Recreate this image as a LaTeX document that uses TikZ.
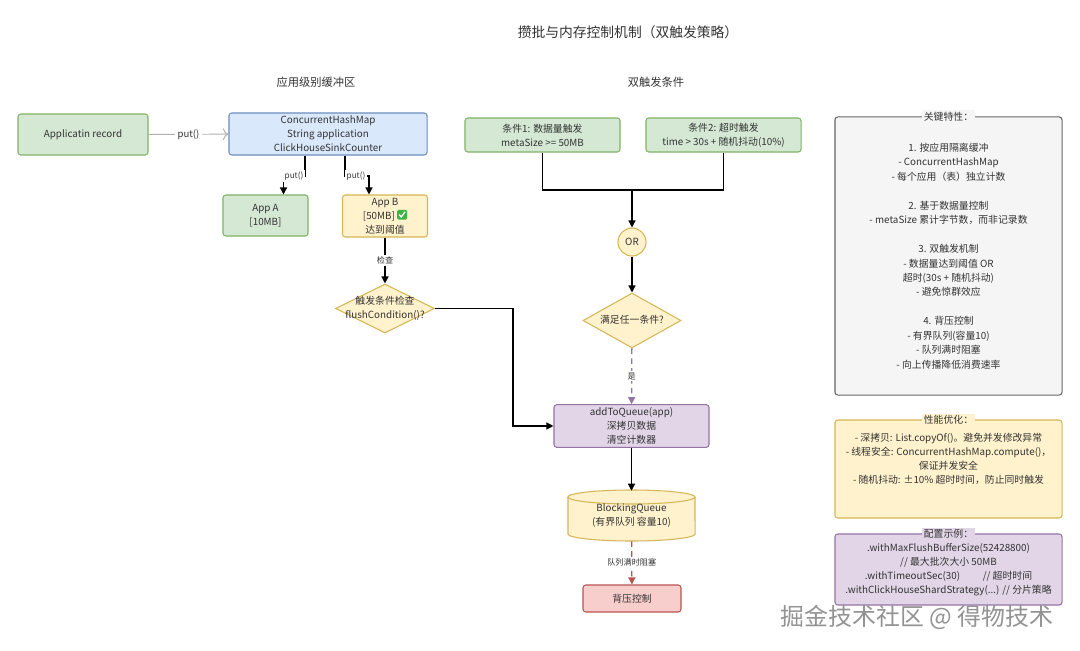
\documentclass[tikz,border=0pt]{standalone}
\usepackage{fontspec}
\setmainfont{Noto Sans CJK SC}
\usepackage{tikz}
\usetikzlibrary{arrows.meta, shapes.geometric, positioning, calc}

\definecolor{txt}{HTML}{333333}
\definecolor{grnfill}{HTML}{D5E8D4}
\definecolor{grnline}{HTML}{82B366}
\definecolor{blufill}{HTML}{DAE8FC}
\definecolor{bluline}{HTML}{6C8EBF}
\definecolor{ylwfill}{HTML}{FFF2CC}
\definecolor{ylwline}{HTML}{D6B656}
\definecolor{prpfill}{HTML}{E1D5E7}
\definecolor{prpline}{HTML}{9673A6}
\definecolor{redfill}{HTML}{F8CECC}
\definecolor{redline}{HTML}{B85450}
\definecolor{gryfill}{HTML}{F5F5F5}
\definecolor{gryline}{HTML}{666666}
\definecolor{okgreen}{HTML}{3DB34A}

\newcommand{\okmark}{\tikz[baseline=-1.2pt,x=1pt,y=1pt,sharp corners]{\fill[okgreen,rounded corners=1pt] (0,-1.5) rectangle (7,5.5); \draw[white,line width=0.9pt,sharp corners] (1.4,2.1) -- (2.9,0.4) -- (5.6,4.1);}}
\newcommand{\midtext}[1]{\makebox[0pt]{\begin{tabular}{@{}c@{}}#1\end{tabular}}}

\begin{document}
\begin{tikzpicture}[x=0.025cm, y=-0.025cm, text=txt,
		every node/.style={font=\fontsize{7}{10}\selectfont},
		box/.style={draw, rounded corners=2pt, line width=0.75pt, align=center, inner sep=2pt},
		grnbox/.style={box, fill=grnfill, draw=grnline},
		blubox/.style={box, fill=blufill, draw=bluline},
		ylwbox/.style={box, fill=ylwfill, draw=ylwline},
		prpbox/.style={box, fill=prpfill, draw=prpline},
		redbox/.style={box, fill=redfill, draw=redline},
		grybox/.style={box, fill=gryfill, draw=gryline},
		ylwdia/.style={diamond, draw=ylwline, fill=ylwfill, line width=0.75pt, inner sep=0pt, aspect=2},
		lbl/.style={fill=white, text=txt, inner sep=1pt, font=\fontsize{5.8}{7}\selectfont},
		flow/.style={line width=0.9pt, -{Triangle[length=5pt,width=5pt]}},
		bus/.style={line width=0.9pt},
		]
		
		\useasboundingbox[fill=white] (0,0) rectangle (1080,651);
		
		% titles
		\node[font=\fontsize{9.8}{12}\selectfont] (title) at (628,32) {攒批与内存控制机制（双触发策略）};
		\node[font=\fontsize{8}{10}\selectfont] (bufttl) at (316,82) {应用级别缓冲区};
		\node[font=\fontsize{8}{10}\selectfont] (trigttl) at (656,82) {双触发条件};
		
		% buffer per application
		\node[grnbox, minimum width=3.25cm, minimum height=1.025cm] (rec) at (83,134.5) {Applicatin record};
		\node[blubox, minimum width=4.95cm, minimum height=1.05cm] (hmap) at (328,134) {ConcurrentHashMap\\String application\\ClickHouseSinkCounter};
		\node[grnbox, minimum width=2.125cm, minimum height=1.025cm] (appa) at (265.5,215.5) {App A\\{[10MB]}};
		\node[ylwbox, minimum width=2.125cm, minimum height=1.05cm] (appb) at (385,216) {App B\\{[50MB]} \okmark\\达到阈值};
		\node[ylwdia, minimum width=2.475cm, minimum height=1.225cm] (chk) at (385,308.5) {\midtext{触发条件检查\\flushCondition()?}};
		
		\draw[gray!60, line width=0.7pt, -{To[length=4pt]}] (rec) -- node[fill=white, inner sep=2pt, text=txt, font=\fontsize{6.8}{8}\selectfont] (putlbl) {put()} (hmap);
		\draw[flow] ([xshift=-0.575cm]hmap.south) |- (294,176) node[lbl] (puta) {put()} -| ([xshift=0.45cm]appa.north);
		\draw[flow] ([xshift=0.425cm]hmap.south) |- (356,176) node[lbl] (putb) {put()} -| ([xshift=-0.4cm]appb.north);
		\draw[flow] (appb) -- node[lbl] (chklbl) {检查} (chk);
		
		% double trigger
		\node[grnbox, minimum width=3.875cm, minimum height=0.85cm] (cond1) at (542.5,135) {条件1: 数据量触发\\metaSize >= 50MB};
		\node[grnbox, minimum width=3.875cm, minimum height=0.85cm] (cond2) at (723.5,135) {条件2: 超时触发\\time > 30s + 随机抖动(10\%)};
		\node[ylwbox, circle, minimum size=0.7cm, inner sep=0pt] (orn) at (632,242) {OR};
		\node[ylwdia, minimum width=2.45cm, minimum height=1.375cm] (any) at (632,320.5) {\midtext{满足任一条件?}};
		\node[prpbox, minimum width=3.875cm, minimum height=1.05cm] (enq) at (631.5,426) {addToQueue(app)\\深拷贝数据\\清空计数器};
		
		\coordinate (merge) at (632,190);
		\draw[bus] (cond1.south) |- (merge) -| (cond2.south);
		\draw[flow] (merge) -- (orn);
		\draw[flow] (orn) -- (any);
		\draw[line width=0.9pt, prpline, dash pattern=on 4pt off 3pt, -{Triangle[length=5pt,width=5pt]}] (any) -- node[lbl] (yes) {是} (enq);
		\draw[flow] (chk.east) -- (513,308.5) |- (enq.west);
		
		% queue
		\begin{scope}[draw=ylwline, fill=ylwfill, line width=0.75pt]
			\filldraw (568,497) -- (568,534) arc[start angle=180, end angle=360, x radius=1.5875cm, y radius=0.175cm]
				-- (695,497) arc[start angle=0, end angle=180, x radius=1.5875cm, y radius=0.175cm] -- cycle;
			\draw (568,497) arc[start angle=180, end angle=360, x radius=1.5875cm, y radius=0.175cm];
		\end{scope}
		\node[minimum width=3.175cm, minimum height=1.25cm, inner sep=0pt, align=center] (bq) at (631.5,516) {BlockingQueue\\(有界队列 容量10)};
		\node[redbox, minimum width=2.45cm, minimum height=0.675cm] (bp) at (632,598.5) {背压控制};
		
		\draw[flow] (enq) -- (bq);
		\draw[line width=0.9pt, redline, dash pattern=on 4pt off 3pt, -{Triangle[length=5pt,width=5pt]}] (bq) -- node[lbl] (full) {队列满时阻塞} (bp);
		
		% side panels
		\node[grybox, minimum width=5.675cm, minimum height=6.95cm] (feat) at (948.5,256) {};
		\node[fill=gryfill, inner sep=1pt] (featttl) at (feat.north) {关键特性：};
		\node[align=center, font=\fontsize{7}{10.3}\selectfont] (feattxt) at (feat.center) {1. 按应用隔离缓冲\\- ConcurrentHashMap\\- 每个应用（表）独立计数\\[10.3pt]2. 基于数据量控制\\- metaSize 累计字节数，而非记录数\\[10.3pt]3. 双触发机制\\- 数据量达到阈值 OR\\超时(30s + 随机抖动)\\- 避免惊群效应\\[10.3pt]4. 背压控制\\- 有界队列(容量10)\\- 队列满时阻塞\\- 向上传播降低消费速率};
		
		\node[ylwbox, minimum width=5.675cm, minimum height=2.45cm] (perf) at (948.5,469) {};
		\node[fill=ylwfill, inner sep=1pt] (perfttl) at (perf.north) {性能优化：};
		\node[align=center] (perftxt) at (948.5,458.5) {- 深拷贝: List.copyOf()。避免并发修改异常\\- 线程安全: ConcurrentHashMap.compute()，\\保证并发安全\\- 随机抖动: ±10\% 超时时间，防止同时触发};
		
		\node[prpbox, minimum width=5.675cm, minimum height=1.775cm] (conf) at (948.5,569.5) {};
		\node[fill=prpfill, inner sep=1pt] (confttl) at (conf.north) {配置示例：};
		\node[align=center] (conftxt) at (conf.center) {.withMaxFlushBufferSize(52428800)\\// 最大批次大小 50MB\\.withTimeoutSec(30)\hspace{2.3em}// 超时时间\\.withClickHouseShardStrategy(...) // 分片策略};
		
		\node[text=gray!85, font=\fontsize{17}{20}\selectfont] (mark) at (917,617) {掘金技术社区 @ 得物技术};
	\end{tikzpicture}
\end{document}
